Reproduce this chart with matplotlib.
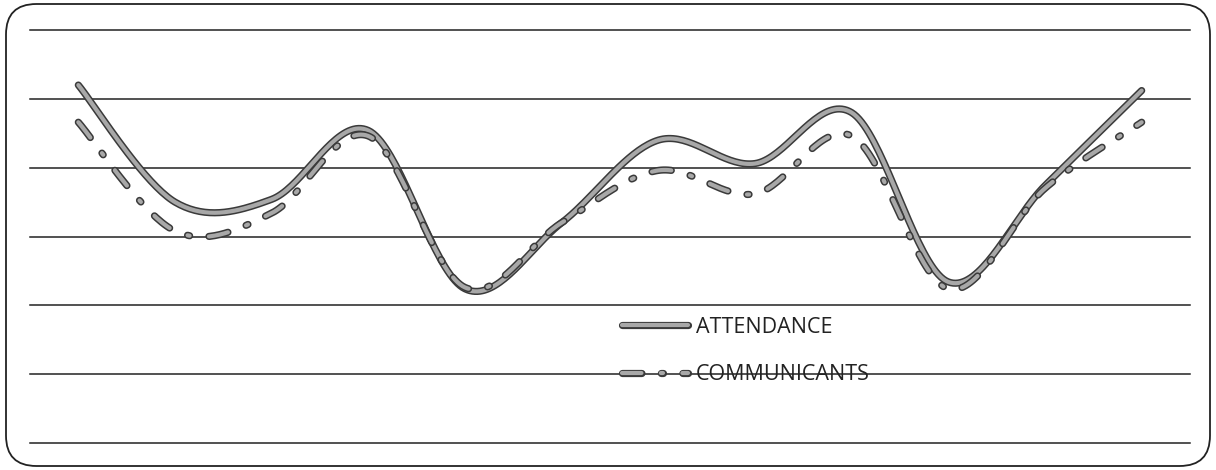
import numpy as np
import matplotlib.pyplot as plt
import matplotlib.patheffects as pe
from matplotlib.patches import FancyBboxPatch

months = list(range(12))
attendance = [260, 175, 177, 227, 112, 160, 220, 203, 240, 117, 187, 256]
communicants = [233, 154, 167, 223, 113, 160, 198, 181, 223, 112, 185, 233]
legend_labels = ["ATTENDANCE", "COMMUNICANTS"]


def smooth(xs, ys, n=40):
	# excel style smoothed line: bezier segments, control points from neighbours
	xs = np.asarray(xs, float)
	ys = np.asarray(ys, float)
	pts = np.column_stack([xs, ys])
	out = []
	for i in range(len(pts) - 1):
		p0 = pts[max(i - 1, 0)]
		p1 = pts[i]
		p2 = pts[i + 1]
		p3 = pts[min(i + 2, len(pts) - 1)]
		c1 = p1 + (p2 - p0) / 6.0
		c2 = p2 - (p3 - p1) / 6.0
		t = np.linspace(0, 1, n)[:, None]
		seg = (1 - t)**3 * p1 + 3 * (1 - t)**2 * t * c1 + 3 * (1 - t) * t**2 * c2 + t**3 * p2
		out.append(seg if i == 0 else seg[1:])
	out = np.vstack(out)
	return out[:, 0], out[:, 1]


plt.rcParams['font.family'] = ['Open Sans', 'DejaVu Sans']
plt.rcParams['lines.scale_dashes'] = False

fig = plt.figure(figsize=(12.16, 4.70), dpi=100)
ax = fig.add_axes([30 / 1216, 27 / 470, 1160 / 1216, 413 / 470])

outline = [pe.Stroke(linewidth=5.2, foreground='#3a3a3a'), pe.Normal()]

xa, ya = smooth(months, attendance)
ax.plot(xa, ya, color='#a8a8a8', lw=3, solid_capstyle='round',
		path_effects=outline, label=legend_labels[0], zorder=3)

xc, yc = smooth(months, communicants)
ax.plot(xc, yc, color='#a8a8a8', lw=3, dashes=(14, 14, 1.5, 14), dash_capstyle='round',
		path_effects=outline, label=legend_labels[1], zorder=3)

ax.set_xlim(-0.5, 11.5)
ax.set_ylim(0, 300)
ax.set_yticks(np.arange(0, 301, 50))
ax.grid(axis='y', color='#222222', lw=1.1)
for g in ax.yaxis.get_gridlines():
	g.set_clip_on(False)
ax.tick_params(left=False, bottom=False, labelleft=False, labelbottom=False)
for s in ax.spines.values():
	s.set_visible(False)

leg = fig.legend(loc='upper left', bbox_to_anchor=(0.5115, 0.3255), frameon=False,
				 fontsize=15.5, handlelength=3.07, handletextpad=0.35, labelspacing=1.23,
				 borderpad=0, borderaxespad=0)
for t in leg.get_texts():
	t.set_color('#222222')

# rounded frame round the chart
frame = FancyBboxPatch((6 / 1216, 4 / 470), 1204 / 1216, 462 / 470,
					   boxstyle="round,pad=0,rounding_size=0.025",
					   transform=fig.transFigure, fill=False, ec='#222222', lw=1.3,
					   mutation_aspect=1216 / 470)
fig.patches.append(frame)

plt.savefig('out.png', dpi=100)
